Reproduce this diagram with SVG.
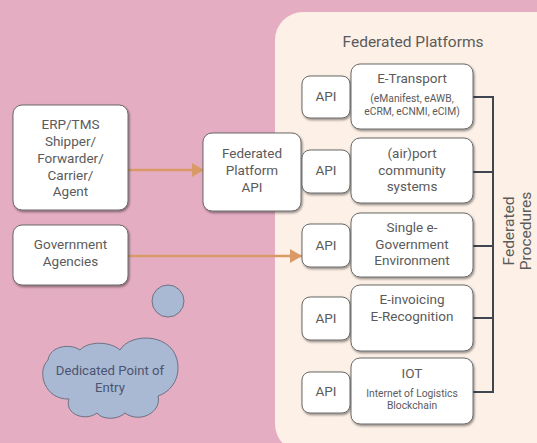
<svg xmlns="http://www.w3.org/2000/svg" width="537" height="443" viewBox="0 0 537 443">
  <defs>
    <filter id="shadow" x="-10%" y="-10%" width="125%" height="130%">
      <feDropShadow dx="1" dy="1.5" stdDeviation="0.8" flood-color="#000" flood-opacity="0.45"/>
    </filter>
    <marker id="arrow" viewBox="0 0 12 14" refX="12" refY="7" markerWidth="12" markerHeight="14" markerUnits="userSpaceOnUse" orient="auto">
      <path d="M0 0 L12 7 L0 14 Z" fill="#d99a68"/>
    </marker>
    <style>
      .box { fill: #ffffff; stroke: #6a6a6a; stroke-width: 1; filter: url(#shadow); }
      .t { font-family: Roboto, "Liberation Sans", sans-serif; fill: #5b5b5b; text-anchor: middle; font-size: 13.5px; }
      .s { font-size: 10.3px; }
      .big { font-size: 15.5px; }
      .flow { stroke: #d99a68; stroke-width: 2.5; fill: none; marker-end: url(#arrow); }
      .bracket { stroke: #3f4652; stroke-width: 2; fill: none; }
      .blob { fill: #a9b8d3; stroke: #6d7284; stroke-width: 1; }
      .dark { fill: #4b5570; font-size: 13.2px; }
    </style>
  </defs>

  <!-- background -->
  <rect width="537" height="443" fill="#e5adc2"/>

  <!-- federated platforms panel -->
  <g id="panel">
    <rect x="275" y="12" width="300" height="440" rx="28" fill="#fdf0e6"/>
    <text class="t big" x="413" y="47">Federated Platforms</text>
  </g>

  <!-- connectors -->
  <g id="connectors">
    <line class="flow" x1="128" y1="170" x2="204" y2="170"/>
    <line class="flow" x1="128" y1="256" x2="302" y2="256"/>
    <path class="bracket" d="M473 97 H493 V392 H473 M473 172 H493 M473 246 H493 M473 318 H493"/>
  </g>

  <!-- left side sources -->
  <g id="erp">
    <rect class="box" x="13" y="105" width="115" height="105" rx="9"/>
    <text class="t" x="70.5" y="129">ERP/TMS</text>
    <text class="t" x="70.5" y="146">Shipper/</text>
    <text class="t" x="70.5" y="163">Forwarder/</text>
    <text class="t" x="70.5" y="180">Carrier/</text>
    <text class="t" x="70.5" y="196">Agent</text>
  </g>
  <g id="government">
    <rect class="box" x="13" y="225" width="115" height="60" rx="9"/>
    <text class="t" x="70.5" y="249">Government</text>
    <text class="t" x="70.5" y="266">Agencies</text>
  </g>
  <g id="fed-api">
    <rect class="box" x="203" y="133" width="98" height="78" rx="9"/>
    <text class="t" x="252" y="158">Federated</text>
    <text class="t" x="252" y="175">Platform</text>
    <text class="t" x="252" y="192">API</text>
  </g>

  <!-- dedicated point of entry -->
  <g id="entry-bubble">
    <circle class="blob" cx="168" cy="301" r="16"/>
  </g>
  <g id="entry">
    <path class="blob" d="M48 360 C50 346 70 343 80 350 C88 341 110 341 120 350 C130 332 176 332 178 366 C179 382 168 393 158 396 C162 412 140 424 125 413 C118 420 102 420 97 413 C85 422 64 414 69 399 C45 400 36 372 48 360 Z"/>
    <text class="t dark" x="110" y="375">Dedicated Point of</text>
    <text class="t dark" x="110" y="392">Entry</text>
  </g>

  <!-- platform rows -->
  <g id="etransport">
    <rect class="box" x="302" y="76" width="48" height="42" rx="8"/>
    <text class="t" x="326" y="101">API</text>
    <rect class="box" x="351" y="64" width="122" height="65" rx="9"/>
    <text class="t" x="412" y="83">E-Transport</text>
    <text class="t s" x="412" y="102">(eManifest, eAWB,</text>
    <text class="t s" x="412" y="115">eCRM, eCNMI, eCIM)</text>
  </g>
  <g id="port">
    <rect class="box" x="302" y="150" width="48" height="43" rx="8"/>
    <text class="t" x="326" y="175">API</text>
    <rect class="box" x="351" y="138" width="122" height="65" rx="9"/>
    <text class="t" x="412" y="158">(air)port</text>
    <text class="t" x="412" y="175">community</text>
    <text class="t" x="412" y="191">systems</text>
  </g>
  <g id="egov">
    <rect class="box" x="302" y="224" width="48" height="43" rx="8"/>
    <text class="t" x="326" y="250">API</text>
    <rect class="box" x="351" y="213" width="122" height="64" rx="9"/>
    <text class="t" x="412" y="232">Single e-</text>
    <text class="t" x="412" y="249">Government</text>
    <text class="t" x="412" y="265">Environment</text>
  </g>
  <g id="einvoicing">
    <rect class="box" x="302" y="297" width="48" height="43" rx="8"/>
    <text class="t" x="326" y="323">API</text>
    <rect class="box" x="351" y="285" width="122" height="66" rx="9"/>
    <text class="t" x="412" y="304">E-invoicing</text>
    <text class="t" x="412" y="321">E-Recognition</text>
  </g>
  <g id="iot">
    <rect class="box" x="302" y="372" width="48" height="41" rx="8"/>
    <text class="t" x="326" y="396">API</text>
    <rect class="box" x="351" y="358" width="122" height="66" rx="9"/>
    <text class="t" x="412" y="378">IOT</text>
    <text class="t s" x="412" y="397">Internet of Logistics</text>
    <text class="t s" x="412" y="409">Blockchain</text>
  </g>

  <!-- vertical label -->
  <g id="procedures">
    <text class="t big" transform="translate(514 231) rotate(-90)">Federated</text>
    <text class="t big" transform="translate(531 231) rotate(-90)">Procedures</text>
  </g>
</svg>
